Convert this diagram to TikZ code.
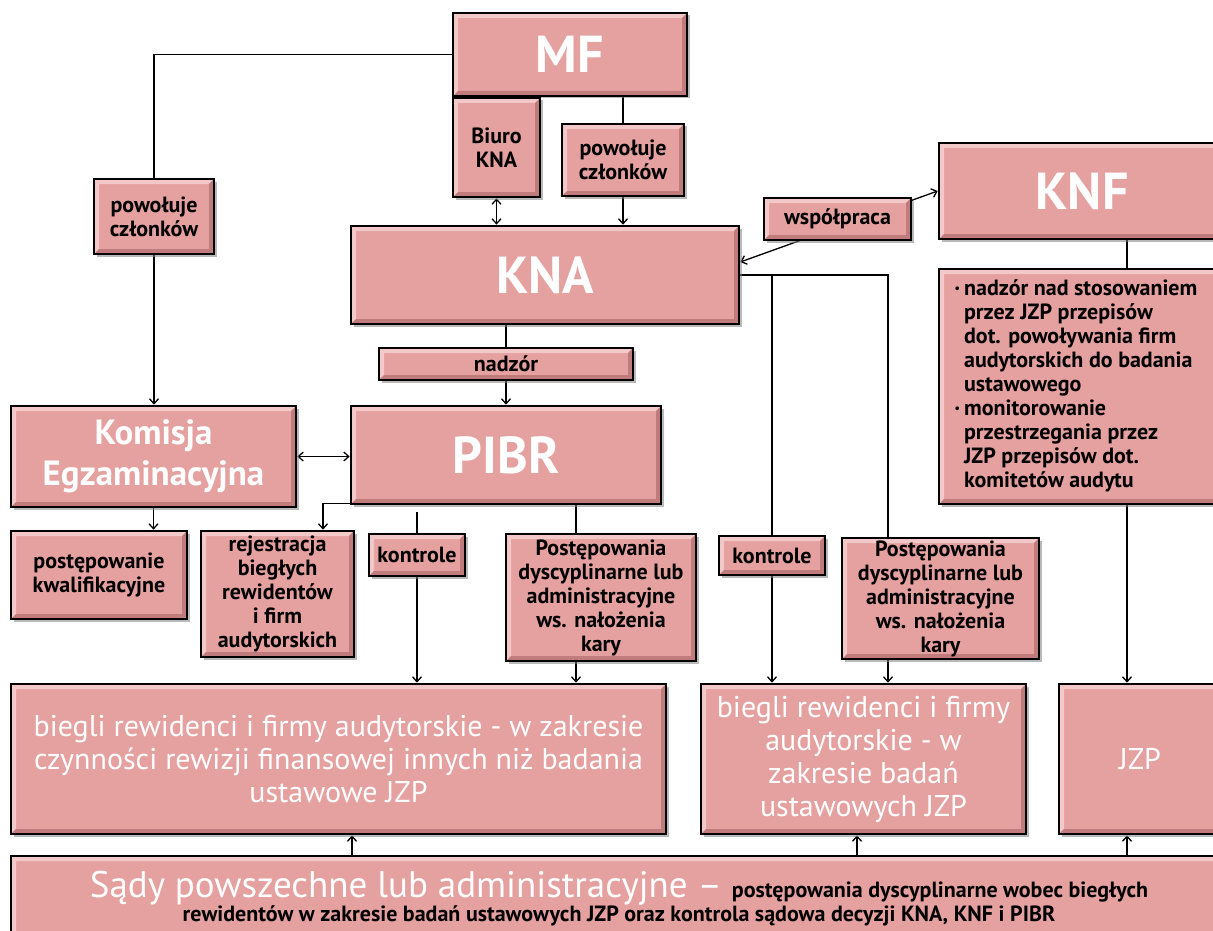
\documentclass[tikz,border=0pt]{standalone}
\usepackage{fontspec}
\setmainfont{PT Sans}
\usetikzlibrary{arrows.meta,shadows,backgrounds,calc}
\definecolor{boxfill}{RGB}{229,160,160}
\definecolor{boxlight}{RGB}{243,200,200}
\definecolor{boxdark}{RGB}{192,124,124}
\tikzset{
 bevel/.style={path picture={
   \fill[boxlight] (path picture bounding box.north west) -- (path picture bounding box.north east) -- ([shift={(-5pt,-5pt)}]path picture bounding box.north east) -- ([shift={(5pt,-5pt)}]path picture bounding box.north west) -- ([shift={(5pt,5pt)}]path picture bounding box.south west) -- (path picture bounding box.south west) -- cycle;
   \fill[boxdark] (path picture bounding box.south east) -- (path picture bounding box.south west) -- ([shift={(5pt,5pt)}]path picture bounding box.south west) -- ([shift={(-5pt,5pt)}]path picture bounding box.south east) -- ([shift={(-5pt,-5pt)}]path picture bounding box.north east) -- (path picture bounding box.north east) -- cycle;
 }},
 box/.style={draw=black, line width=2.6pt, fill=boxfill, inner sep=0pt, align=center, bevel,
   drop shadow={shadow xshift=2.5pt, shadow yshift=-2.5pt, fill=black!50, opacity=0.55}},
 title/.style={font=\fontsize{52}{56}\selectfont\bfseries, text=white},
 mid/.style={font=\fontsize{35}{41}\selectfont\bfseries, text=white},
 body/.style={font=\fontsize{30}{33}\selectfont, text=white},
 lbl/.style={font=\fontsize{22}{24}\selectfont\bfseries, text=black},
 conn/.style={line width=1.3pt, draw=black},
 arr/.style={conn, -{Straight Barb[length=5pt,width=9pt]}},
 darr/.style={conn, {Straight Barb[length=5pt,width=9pt]}-{Straight Barb[length=5pt,width=9pt]}},
}
\newcommand\bx[7]{\node[box,#6,minimum width={(#4-#2-2)*1pt},minimum height={(#5-#3-2)*1pt}] (#1) at ({(#2+#4)/2},{(#3+#5)/2}) {#7};}
\newcommand\bul{\raisebox{3pt}{\fontsize{12}{12}\selectfont•}}
\begin{document}
\begin{tikzpicture}[x=1pt,y=-1pt]
\path[use as bounding box] (0,0) rectangle (1213,931);
\clip (0,0) rectangle (1213,931);
% boxes
\bx{MF}{452}{12}{688}{97}{title}{MF}
\bx{biuro}{452}{97}{541}{198}{lbl}{Biuro\\KNA}
\bx{pow2}{561}{123}{685}{197}{lbl}{powołuje\\członków}
\bx{pow1}{93}{178}{215}{255}{lbl}{powołuje\\członków}
\bx{KNA}{350}{225}{740}{325}{title}{KNA}
\bx{wsp}{763}{197}{912}{241}{lbl}{współpraca}
\bx{KNF}{938}{142}{1226}{240}{title}{KNF}
\bx{desc}{938}{268}{1226}{505}{lbl}{\begin{tabular}{@{}l@{\hspace{4pt}}l@{}}
\bul & nadzór nad stosowaniem\\
 & przez JZP przepisów\\
 & dot. powoływania firm\\
 & audytorskich do badania\\
 & ustawowego\\
\bul & monitorowanie\\
 & przestrzegania przez\\
 & JZP przepisów dot.\\
 & komitetów audytu
\end{tabular}\hspace*{12pt}}
\bx{nadzor}{378}{347}{634}{381}{lbl}{nadzór}
\bx{PIBR}{350}{405}{662}{505}{title}{PIBR}
\bx{Kom}{10}{405}{297}{508}{mid}{Komisja\\Egzaminacyjna}
\bx{postkw}{10}{530}{188}{620}{lbl}{postępowanie\\kwalifikacyjne}
\bx{rej}{200}{530}{355}{658}{lbl}{rejestracja\\biegłych\\rewidentów\\i firm\\audytorskich}
\bx{kon1}{368}{533}{466}{577}{lbl}{kontrole}
\bx{post1}{505}{533}{697}{662}{lbl}{Postępowania\\dyscyplinarne lub\\administracyjne\\ws. nałożenia\\kary}
\bx{kon2}{718}{535}{826}{576}{lbl}{kontrole}
\bx{post2}{841}{537}{1040}{660}{lbl}{Postępowania\\dyscyplinarne lub\\administracyjne\\ws. nałożenia\\kary}
\bx{bieg1}{10}{683}{667}{835}{body}{biegli rewidenci i firmy audytorskie - w zakresie\\czynności rewizji finansowej innych niż badania\\ustawowe JZP}
\bx{bieg2}{700}{683}{1027}{835}{body}{biegli rewidenci i firmy\\audytorskie - w\\zakresie badań\\ustawowych JZP}
\bx{JZP}{1058}{683}{1222}{835}{body}{JZP}
\bx{sady}{10}{855}{1228}{942}{lbl}{{\fontsize{37}{40}\selectfont\mdseries\color{white}Sądy powszechne lub administracyjne – }postępowania dyscyplinarne wobec biegłych\\rewidentów w zakresie badań ustawowych JZP oraz kontrola sądowa decyzji KNA, KNF i PIBR}
% helper coordinates
\coordinate (xrej) at (323,0);
\coordinate (xp1) at (576,0);
\coordinate (xp2) at (888,0);
\coordinate (xknf) at (1127,0);
\coordinate (xs1) at (352,0);
\coordinate (xs2) at (857,0);
% connectors
\begin{pgfonlayer}{background}
\draw[conn] (MF.west) -| (pow1.north);
\draw[arr] (pow1.south) -- (pow1.south |- Kom.north);
\draw[conn] (pow2.north) -- (pow2.north |- MF.south);
\draw[arr] (pow2.south) -- (pow2.south |- KNA.north);
\draw[darr] (biuro.south) -- (biuro.south |- KNA.north);
\draw[darr] ([yshift=13pt]KNA.east) -- (KNF.west);
\draw[conn] (nadzor.north) -- (nadzor.north |- KNA.south);
\draw[arr] (nadzor.south) -- (PIBR.north);
\draw[conn] (KNA.east) -| (xp2 |- post2.north);
\draw[conn] (kon2.north) -- (kon2.north |- KNA.east);
\draw[arr] (kon2.south) -- (kon2.south |- bieg2.north);
\draw[arr] (xp2 |- post2.south) -- (xp2 |- bieg2.north);
\draw[conn] (xknf |- KNF.south) -- (xknf |- desc.north);
\draw[arr] (xknf |- desc.south) -- (xknf |- JZP.north);
\draw[darr] (Kom.east) -- (Kom.east -| PIBR.west);
\draw[arr] (Kom.south) -- (Kom.south |- postkw.north);
\draw[arr] ([yshift=2pt]PIBR.south west) -| (xrej |- rej.north);
\draw[conn] ([yshift=-7pt]kon1.north |- PIBR.south) -- (kon1.north);
\draw[arr] (kon1.south) -- (kon1.south |- bieg1.north);
\draw[conn] (xp1 |- PIBR.south) -- (xp1 |- post1.north);
\draw[arr] (xp1 |- post1.south) -- (xp1 |- bieg1.north);
\draw[arr] (xs1 |- sady.north) -- (xs1 |- bieg1.south);
\draw[arr] (xs2 |- sady.north) -- (xs2 |- bieg2.south);
\draw[arr] (xknf |- sady.north) -- (xknf |- JZP.south);
\end{pgfonlayer}
\end{tikzpicture}
\end{document}
